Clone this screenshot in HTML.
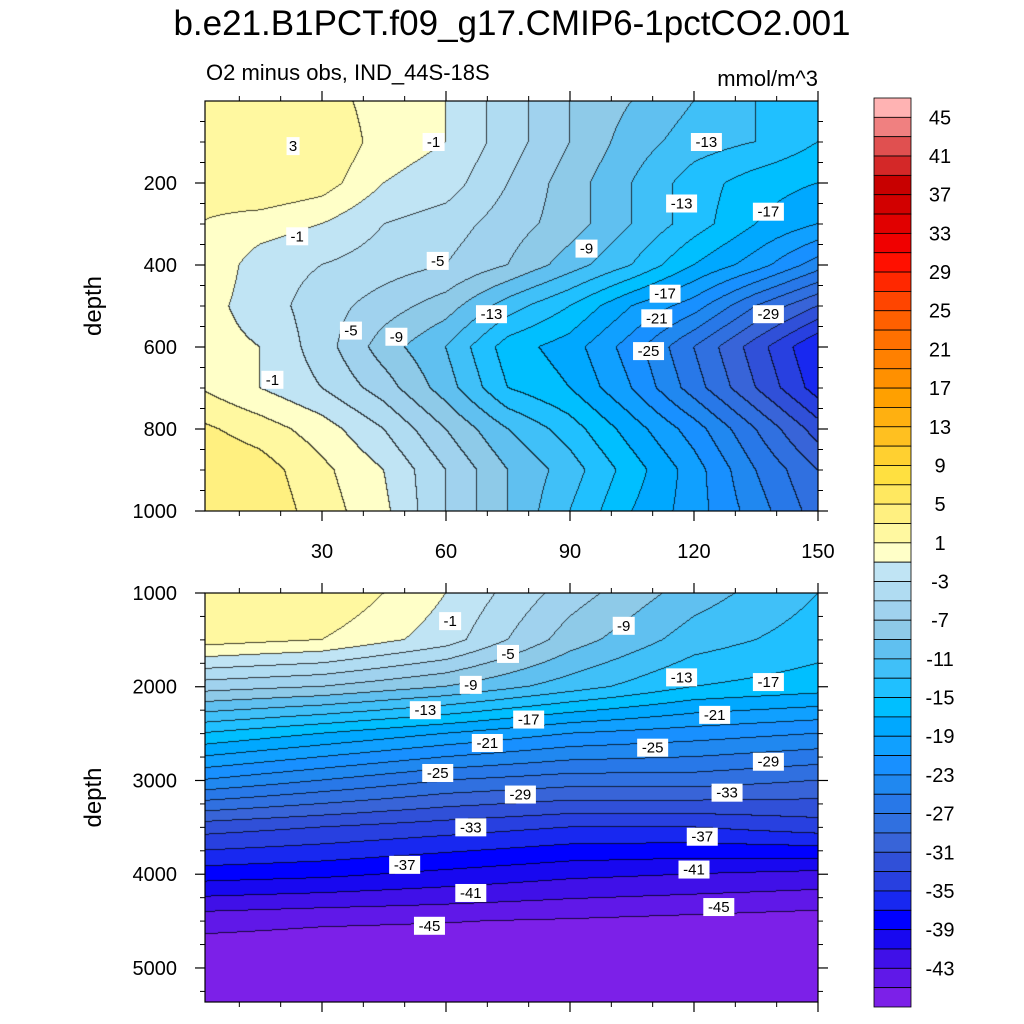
<!DOCTYPE html>
<html><head><meta charset="utf-8">
<style>
html,body{margin:0;padding:0;background:#fff;width:1024px;height:1024px;overflow:hidden;font-family:"Liberation Sans",sans-serif}
canvas,svg{position:absolute;left:0;top:0}
</style></head>
<body>
<canvas id="c" width="1024" height="1024"></canvas>
<svg id="s" width="1024" height="1024"></svg>
<script>
// ---- data ----
const levelColors = ["#ffb3b3","#f08080","#e05050","#d42828","#c80000","#d20000","#e10000","#f00000","#ff1000","#ff2800","#ff4500","#ff6000","#ff7000","#ff8000","#ff9000","#ffa000","#ffb010","#ffc020","#ffd030","#ffe040","#ffe860","#fff080","#fff8a0","#ffffc8","#c0e4f4","#b0dcf2","#a0d2ee","#8ecae8","#60c0f0","#40c0f8","#20c0ff","#00bfff","#00a8ff","#10a0ff","#1890ff","#2088f0","#2878e8","#3070e0","#3864d8","#3050d8","#2840e0","#1828f0","#0000ff","#1808f0","#4010e8","#6018e8","#7c20e8"];
const cbLabels = [45,41,37,33,29,25,21,17,13,9,5,1,-3,-7,-11,-15,-19,-23,-27,-31,-35,-39,-43];
const upX = [0,15,30,45,60,75,90,105,120,135,150];
const upDepth = [0,100,200,300,400,500,600,700,800,900,1000];
const upVals = [
[2,3,2,0,-1,-4,-7,-9,-11,-13,-15],
[2,3,3,0,-1,-4,-7,-10,-12,-13,-15],
[2,3,2,-1,-2,-5,-8,-11,-14,-16,-17],
[1,0,-1,-3,-4,-6,-8,-11,-14,-17,-19],
[1,-2,-3,-4,-5,-7,-10,-13,-17,-20,-24],
[0,-2,-4,-6,-8,-12,-15,-19,-22,-27,-31],
[0,-1,-4,-8,-11,-16,-18,-22,-27,-32,-37],
[1,-1,-3,-6,-10,-15,-17,-21,-26,-31,-36],
[3.5,2,0,-3,-7,-11,-14,-18,-22,-27,-32],
[5,4,1.5,-1,-5,-9,-12,-16,-20,-25,-29],
[5,4.5,2,-0.5,-5,-9,-13,-17,-20,-24,-28]];
const loX = [0,30,60,90,120,150];
const loDepth = [1000,1500,2000,2500,3000,3500,4000,4500,5000,5400];
const loVals = [
[3,3,-1,-6,-10,-13],
[2,1,-2,-8,-12,-14],
[-6,-7,-9,-12,-15,-16],
[-15,-17,-19,-21,-22,-23],
[-23,-25,-27,-28,-28,-29],
[-32,-33,-34,-35,-35,-34],
[-38,-38.5,-39.5,-40.5,-41,-41.5],
[-44.2,-44.7,-44.9,-45.2,-45.6,-46],
[-47,-47,-47,-47,-47,-47],
[-47,-47,-47,-47,-47,-47]];
const upLabels = [[3,23,110],[-1,57,100],[-13,123,100],[-1,24,330],[-13,117,250],[-17,138,270],[-9,94,360],[-5,58,390],[-17,113,470],[-5,37,560],[-9,48,575],[-13,71,520],[-21,111,530],[-29,138,520],[-25,109,610],[-1,18,680]];
const loLabels = [[-1,61,1300],[-9,103,1350],[-5,75,1650],[-9,66,1980],[-13,117,1900],[-17,138,1950],[-13,55,2250],[-17,80,2350],[-21,125,2300],[-21,70,2600],[-25,110,2650],[-29,138,2800],[-25,58,2920],[-29,78,3150],[-33,128,3130],[-33,66,3500],[-37,122,3600],[-37,50,3900],[-41,66,4200],[-41,120,3950],[-45,56,4550],[-45,126,4350]];

// ---- geometry ----
const P1={x0:205,x1:818,y0:101,y1:511,dmin:0,dmax:1000};
const P2={x0:205,x1:818,y0:593,y1:1002,dmin:1000,dmax:5363};
const xPx = v => 198 + v*4.1333;
const pxX = p => (p-198)/4.1333;
const yPx = (P,d) => P.y0 + (d-P.dmin)/(P.dmax-P.dmin)*(P.y1-P.y0);
const pxY = (P,p) => P.dmin + (p-P.y0)/(P.y1-P.y0)*(P.dmax-P.dmin);

function interp(xs,ys,V,x,y){
  let i=0; while(i<xs.length-2 && x>xs[i+1]) i++;
  let j=0; while(j<ys.length-2 && y>ys[j+1]) j++;
  let tx=Math.min(1,Math.max(0,(x-xs[i])/(xs[i+1]-xs[i])));
  let ty=Math.min(1,Math.max(0,(y-ys[j])/(ys[j+1]-ys[j])));
  return V[j][i]*(1-tx)*(1-ty)+V[j][i+1]*tx*(1-ty)+V[j+1][i]*(1-tx)*ty+V[j+1][i+1]*tx*ty;
}
function lev(v){ let k=Math.floor((v+47)/2); return Math.max(0,Math.min(46,k)); }
function hex(h){return [parseInt(h.substr(1,2),16),parseInt(h.substr(3,2),16),parseInt(h.substr(5,2),16)];}
const rgb = levelColors.map(hex);

const ctx=document.getElementById('c').getContext('2d');
function drawPanel(P,xs,ys,V){
  const W=P.x1-P.x0, H=P.y1-P.y0;
  const L=[];
  for(let r=0;r<H;r++){L.push([]);const d=pxY(P,P.y0+r+0.5);
    for(let c=0;c<W;c++){L[r].push(lev(interp(xs,ys,V,pxX(P.x0+c+0.5),d)));}}
  const img=ctx.createImageData(W,H);
  for(let r=0;r<H;r++)for(let c=0;c<W;c++){
    const k=L[r][c]; let col=rgb[46-k];
    let edge=(c+1<W&&L[r][c+1]!==k)||(r+1<H&&L[r+1][c]!==k);
    if(edge) col=[col[0]*0.25,col[1]*0.25,col[2]*0.25];
    const o=(r*W+c)*4; img.data[o]=col[0];img.data[o+1]=col[1];img.data[o+2]=col[2];img.data[o+3]=255;}
  ctx.putImageData(img,P.x0,P.y0);
}
drawPanel(P1,upX,upDepth,upVals);
drawPanel(P2,loX,loDepth,loVals);

// ---- overlay ----
const NS="http://www.w3.org/2000/svg", svg=document.getElementById('s');
function el(t,a,txt){const e=document.createElementNS(NS,t);for(const k in a)e.setAttribute(k,a[k]);if(txt!==undefined)e.textContent=txt;svg.appendChild(e);return e;}
let e;
e=el('text',{x:512,y:35,'text-anchor':'middle','font-size':35},'b.e21.B1PCT.f09_g17.CMIP6-1pctCO2.001');


e=el('text',{x:206,y:80,'font-size':22},'O2 minus obs, IND_44S-18S');


e=el('text',{x:818,y:86,'text-anchor':'end','font-size':22},'mmol/m^3');



function frame(P,name,ticks,minor,showX){
  let f=el('rect',{x:P.x0,y:P.y0,width:P.x1-P.x0,height:P.y1-P.y0,fill:'none',stroke:'#000','stroke-width':1.2});
  
  
  ticks.forEach(d=>{const y=yPx(P,d);
    el('line',{x1:P.x0-10,x2:P.x0,y1:y,y2:y,stroke:'#000','stroke-width':1.2});
    el('line',{x1:P.x1,x2:P.x1+10,y1:y,y2:y,stroke:'#000','stroke-width':1.2});
    let t=el('text',{x:P.x0-28,y:y+7,'text-anchor':'end','font-size':20},String(d));
    
    });
  minor.forEach(d=>{const y=yPx(P,d);if(y<P.y0||y>P.y1)return;
    el('line',{x1:P.x0-5,x2:P.x0,y1:y,y2:y,stroke:'#000'});
    el('line',{x1:P.x1,x2:P.x1+5,y1:y,y2:y,stroke:'#000'});});
  [30,60,90,120,150].forEach(v=>{const x=xPx(v);
    el('line',{x1:x,x2:x,y1:P.y1,y2:P.y1+10,stroke:'#000','stroke-width':1.2});
    el('line',{x1:x,x2:x,y1:P.y0-10,y2:P.y0,stroke:'#000','stroke-width':1.2});
    if(showX){let t=el('text',{x:x,y:P.y1+47,'text-anchor':'middle','font-size':20},String(v));
      
      }});
  for(let v=10;v<=150;v+=10){if(v%30===0)continue;const x=xPx(v);if(x<P.x0)continue;
    el('line',{x1:x,x2:x,y1:P.y1,y2:P.y1+5,stroke:'#000'});
    el('line',{x1:x,x2:x,y1:P.y0-5,y2:P.y0,stroke:'#000'});}
  let yt=el('text',{x:0,y:0,'text-anchor':'middle','font-size':24,transform:`translate(101,${(P.y0+P.y1)/2}) rotate(-90)`},'depth');
  
  
}
let m1=[];for(let d=50;d<1000;d+=50)if(d%200)m1.push(d);
frame(P1,'upper-panel',[200,400,600,800,1000],m1,true);
let m2=[];for(let d=1250;d<5400;d+=250)if(d%1000)m2.push(d);
frame(P2,'lower-panel',[1000,2000,3000,4000,5000],m2,false);

function labels(P,arr,name){arr.forEach(a=>{const x=xPx(a[1]),y=yPx(P,a[2]);const s=String(a[0]);const w=s.length*9+4;
  let r=el('rect',{x:x-w/2,y:y-9,width:w,height:18,fill:'#fff'});
  
  
  let t=el('text',{x:x,y:y+5,'text-anchor':'middle','font-size':15},s);
  
  });}
labels(P1,upLabels,'upper');
labels(P2,loLabels,'lower');

// colorbar
const cbTop=98,cbBot=1007,cbH=(cbBot-cbTop)/levelColors.length;
levelColors.forEach((c,i)=>{let r=el('rect',{x:874,y:cbTop+i*cbH,width:37,height:cbH,fill:c,stroke:'#000','stroke-width':0.8});
  
  });
cbLabels.forEach(v=>{const i=(45-v)/2+1;const y=cbTop+i*cbH;
  let t=el('text',{x:940,y:y+7,'text-anchor':'middle','font-size':20},String(v));
  
  });
</script>
</body></html>
